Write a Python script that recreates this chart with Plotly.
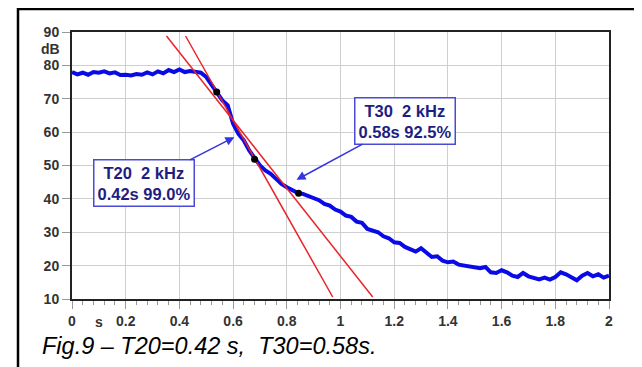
import plotly.graph_objects as go

# Decay curve (time in s, level in dB)
t = [0.00,0.02,0.04,0.06,0.08,0.10,0.12,0.14,0.16,0.18,0.20,0.22,0.24,0.26,0.28,0.30,0.32,0.34,0.36,0.38,
     0.40,0.42,0.44,0.46,0.48,0.50,0.52,0.54,0.56,0.58,0.60,0.62,0.64,0.66,0.68,0.70,0.72,0.74,0.76,0.78,
     0.80,0.82,0.84,0.86,0.88,0.90,0.92,0.94,0.96,0.98,1.00,1.02,1.04,1.06,1.08,1.10,1.12,1.14,1.16,1.18,
     1.20,1.22,1.24,1.26,1.28,1.30,1.32,1.34,1.36,1.38,1.40,1.42,1.44,1.46,1.48,1.50,1.52,1.54,1.56,1.58,
     1.60,1.62,1.64,1.66,1.68,1.70,1.72,1.74,1.76,1.78,1.80,1.82,1.84,1.86,1.88,1.90,1.92,1.94,1.96,1.98,2.00]
level = [78.0,77.3,77.8,77.2,78.0,77.8,78.2,77.6,77.9,77.1,77.2,77.0,77.4,77.2,77.9,77.3,78.2,77.6,78.6,78.0,
         78.8,78.0,78.3,77.9,77.8,76.5,74.0,72.0,69.5,68.0,62.5,59.5,57.5,54.5,52.0,50.0,48.5,47.5,46.0,44.5,
         43.5,42.8,41.8,41.5,40.8,40.0,39.6,38.5,38.0,36.8,36.2,35.0,34.6,33.2,32.8,31.0,30.5,30.0,28.8,28.2,
         27.0,26.8,25.6,25.0,24.2,25.2,23.8,22.6,22.8,21.5,21.0,21.2,20.3,20.0,19.6,19.6,19.2,19.6,18.0,17.8,
         18.6,18.0,17.0,16.6,17.8,16.8,16.5,15.9,16.4,15.8,16.6,18.0,17.4,16.6,15.6,17.0,17.8,16.8,17.4,16.4,17.0]

# Regression lines
t20_x = [0.423, 0.971]
t20_y = [88.8, 10.6]
t30_x = [0.352, 1.12]
t30_y = [88.8, 10.6]

# Evaluation points (-5, -25, -35 dB)
pts_x = [0.539, 0.680, 0.844]
pts_y = [72.0, 51.9, 41.7]

x_ticks = [0, 0.2, 0.4, 0.6, 0.8, 1, 1.2, 1.4, 1.6, 1.8, 2]
x_tick_text = ["0", "0.2", "0.4", "0.6", "0.8", "1", "1.2", "1.4", "1.6", "1.8", "2"]
y_ticks = [10, 20, 30, 40, 50, 60, 70, 80, 90]

fig = go.Figure()
fig.add_trace(go.Scatter(x=t, y=level, mode="lines",
                         line=dict(color="#0a0ae6", width=4), hoverinfo="skip"))
fig.add_trace(go.Scatter(x=t20_x, y=t20_y, mode="lines",
                         line=dict(color="#e8242a", width=1.5)))
fig.add_trace(go.Scatter(x=t30_x, y=t30_y, mode="lines",
                         line=dict(color="#e8242a", width=1.5)))
fig.add_trace(go.Scatter(x=pts_x, y=pts_y, mode="markers",
                         marker=dict(color="black", size=7)))

W, H = 642, 367
OFF = 8  # page body margin
# plot area in screen pixels
SX0, SX1, SY0, SY1 = 72, 609, 32, 299
L = SX0 - OFF
T = SY0 - OFF
R = W - (SX1 - OFF)
B = H - (SY1 - OFF)
pw, ph = SX1 - SX0, SY1 - SY0

def px(xs):
    return (xs - SX0) / pw

def py(ys):
    return (SY1 - ys) / ph

tickfont = dict(family="Arial", size=14, color="#333333", weight="bold")

fig.update_layout(
    width=W, height=H,
    margin=dict(l=L, r=R, t=T, b=B),
    paper_bgcolor="white", plot_bgcolor="white",
    showlegend=False,
    xaxis=dict(range=[0, 2], tickvals=x_ticks, ticktext=x_tick_text,
               showgrid=True, gridcolor="#cfcfcf", gridwidth=1,
               ticks="outside", ticklen=8, tickcolor="#999999", tickwidth=1,
               minor=dict(dtick=0.04, ticks="outside", ticklen=4, tickcolor="#999999", showgrid=False),
               showline=True, linecolor="#222222", linewidth=2, mirror=True,
               tickfont=tickfont, zeroline=False),
    yaxis=dict(range=[10, 90], tickvals=y_ticks,
               showgrid=True, gridcolor="#cfcfcf", gridwidth=1,
               ticks="outside", ticklen=8, tickcolor="#999999", tickwidth=1,
               showline=True, linecolor="#222222", linewidth=2, mirror=True,
               tickfont=tickfont, zeroline=False),
)

# outer frame
fig.add_shape(type="rect", xref="paper", yref="paper",
              x0=px(18), x1=px(638), y0=py(380), y1=py(9),
              line=dict(color="black", width=2.5), layer="below")

box_font = dict(family="Arial", size=16.5, color="#1e1e82", weight="bold")
fig.add_annotation(x=0.605, y=58.5, text="T20  2 kHz<br>0.42s 99.0%",
                   showarrow=True, ax=-90, ay=46, axref="pixel", ayref="pixel",
                   arrowhead=2, arrowsize=1.2, arrowwidth=1.5, arrowcolor="#3434e0",
                   bordercolor="#4a4ad8", borderwidth=1.5, borderpad=3, bgcolor="white",
                   font=box_font, align="center")
fig.add_annotation(x=0.836, y=45.7, text="T30  2 kHz<br>0.58s 92.5%",
                   showarrow=True, ax=109, ay=-59, axref="pixel", ayref="pixel",
                   arrowhead=2, arrowsize=1.2, arrowwidth=1.5, arrowcolor="#3434e0",
                   bordercolor="#4a4ad8", borderwidth=1.5, borderpad=3, bgcolor="white",
                   font=box_font, align="center")

# axis unit labels
fig.add_annotation(xref="paper", yref="paper", x=px(62), y=py(49), text="dB",
                   showarrow=False, xanchor="right", yanchor="middle", font=tickfont)
fig.add_annotation(x=0.1, xref="x", yref="paper", y=py(322), text="s",
                   showarrow=False, xanchor="center", yanchor="middle", font=tickfont)

# caption
fig.add_annotation(xref="paper", yref="paper", x=px(40), y=py(346),
                   text="<i>Fig.9 – T20=0.42 s,  T30=0.58s.</i>",
                   showarrow=False, xanchor="left", yanchor="middle",
                   font=dict(family="Arial", size=23.5, color="black"))

fig.write_html("out.html")
